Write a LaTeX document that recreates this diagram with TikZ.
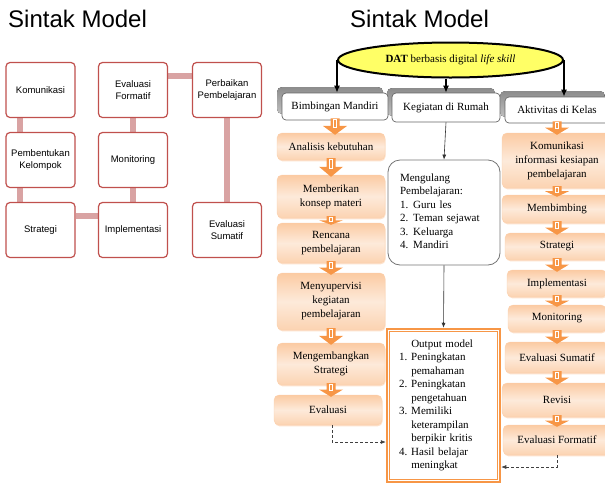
\documentclass[tikz,border=0pt]{standalone}
\usepackage{fontspec}
\setmainfont{Liberation Serif}
\newfontfamily\arialfont{Liberation Sans}
\usetikzlibrary{calc,shapes.geometric,arrows.meta,shadows,backgrounds}

\definecolor{boxred}{HTML}{C0504D}
\definecolor{linkred}{HTML}{D9A3A3}
\definecolor{orangeacc}{HTML}{F79646}
\definecolor{datyellow}{HTML}{FFFF66}

\tikzset{
  judul/.style={anchor=base west, inner sep=0pt, font=\arialfont\fontsize{24}{28}\selectfont},
  sintak/.style={draw=boxred, line width=1.2pt, rounded corners=4pt, fill=white, align=center,
    minimum width=69pt, minimum height=55pt, inner sep=1pt, font=\arialfont\fontsize{9.5}{12}\selectfont},
  sintaklink/.style={linkred, line width=6pt},
  kepala/.style={draw=black!60, line width=0.7pt, fill=white, rounded corners=4pt, inner sep=1pt,
    font=\fontsize{11}{13.5}\selectfont},
  kepalabayang/.style={top color=black!45, bottom color=black!25, rounded corners=5pt, inner sep=0pt},
  langkah/.style={draw=orangeacc!45, line width=0.4pt, rounded corners=5pt, align=center, inner sep=1pt,
    top color=orangeacc!50!white, bottom color=orangeacc!42!white, middle color=orangeacc!20!white,
    drop shadow={shadow xshift=0.6pt, shadow yshift=-1.4pt, fill=orangeacc!35!white, opacity=0.8},
    font=\fontsize{11}{14}\selectfont},
  kotakteks/.style={align=left, inner xsep=12pt, font=\fontsize{11}{13.5}\selectfont},
  panah/.style={line width=1.5pt, -{Latex[length=7pt,width=6pt]}},
  panahtipis/.style={black!80, line width=0.6pt, -{Latex[length=5pt,width=4pt]}},
  putus/.style={black!75, line width=0.6pt, densely dashed, -{Latex[length=5pt,width=4pt]}}
}

% panah blok oranye antar langkah
\newcommand{\blockarrow}[2]{%
  \fill[orangeacc] let \p1=(#1.south), \p2=(#2.north) in
    (\x1-4.5pt,\y1+2pt) -- (\x1-4.5pt,{0.55*\y1+0.45*\y2}) -- (\x1-12pt,{0.55*\y1+0.45*\y2})
    -- (\x1,\y2-2pt) -- (\x1+12pt,{0.55*\y1+0.45*\y2}) -- (\x1+4.5pt,{0.55*\y1+0.45*\y2})
    -- (\x1+4.5pt,\y1+2pt) -- cycle;
  \draw[white, line width=0.5pt] let \p1=(#1.south), \p2=(#2.north) in
    (\x1-1.6pt,\y1+1pt) rectangle (\x1+1.6pt,{0.55*\y1+0.45*\y2-1pt});
}

\begin{document}
\begin{tikzpicture}[x=1pt,y=-1pt]
\useasboundingbox (0,0) rectangle (605,499);

\node[judul] (judulkiri) at (8,27) {Sintak Model};
\node[judul] (judulkanan) at (350,27) {Sintak Model};

% sintak model kiri
\node[sintak] (kom) at (40.5,90) {Komunikasi};
\node[sintak] (pbk) at (40.5,160) {Pembentukan\\Kelompok};
\node[sintak] (str) at (40.5,230) {Strategi};
\node[sintak] (evf) at (133,90) {Evaluasi\\Formatif};
\node[sintak] (mon) at (133,160) {Monitoring};
\node[sintak] (imp) at (133,230) {Implementasi};
\node[sintak] (per) at (227,90) {Perbaikan\\Pembelajaran};
\node[sintak] (evs) at (227,230) {Evaluasi\\Sumatif};

\begin{scope}[on background layer]
\draw[sintaklink] ([xshift=-20.5pt]kom.south) -- ([xshift=-20.5pt]pbk.north);
\draw[sintaklink] ([xshift=-20.5pt]pbk.south) -- ([xshift=-20.5pt]str.north);
\draw[sintaklink] ([yshift=14pt]str.east) -- ([yshift=14pt]imp.west);
\draw[sintaklink] (imp.north) -- (mon.south);
\draw[sintaklink] (mon.north) -- (evf.south);
\draw[sintaklink] ([yshift=14pt]evf.east) -- ([yshift=14pt]per.west);
\draw[sintaklink] (per.south) -- (evs.north);
\end{scope}

% sintak model kanan
\node[ellipse, draw, line width=2pt, fill=datyellow, minimum width=225pt, minimum height=35pt,
  inner sep=0pt, font=\fontsize{11}{12}\selectfont] (dat) at (450.5,60)
  {\textbf{DAT} berbasis digital \textit{life skill}};

\fill[kepalabayang] (277,87) rectangle (383,114);
\fill[kepalabayang] (387,88) rectangle (495,116);
\fill[kepalabayang] (500,91) rectangle (605,117);
\node[kepala, minimum width=106pt, minimum height=27pt] (bim) at (335,106.5) {Bimbingan Mandiri};
\node[kepala, minimum width=108pt, minimum height=29pt] (keg) at (446,107.5) {Kegiatan di Rumah};
\node[kepala, minimum width=104pt, minimum height=26pt] (akt) at (557,110) {Aktivitas di Kelas};

\draw[panah] (dat.west) -- (dat.west |- bim.north);
\draw[panah] (dat.south -| keg.north) -- (keg.north);
\draw[panah] (dat.east) -- (dat.east |- akt.north);

% kolom bimbingan mandiri
\node[langkah, minimum width=108pt, minimum height=27pt] (ana) at (331,146.5) {Analisis kebutuhan};
\node[langkah, minimum width=108pt, minimum height=43pt] (mbk) at (331,196.5) {Memberikan\\konsep materi};
\node[langkah, minimum width=108pt, minimum height=40pt] (ren) at (331,243) {Rencana\\pembelajaran};
\node[langkah, minimum width=108pt, minimum height=57pt] (msp) at (331,301.5) {Menyupervisi\\kegiatan\\pembelajaran};
\node[langkah, minimum width=108pt, minimum height=42pt] (mgs) at (331,364) {Mengembangkan\\Strategi};
\node[langkah, minimum width=108pt, minimum height=30pt] (eva) at (328,410) {Evaluasi};

\blockarrow{bim}{ana}
\blockarrow{ana}{mbk}
\blockarrow{mbk}{ren}
\blockarrow{ren}{msp}
\blockarrow{msp}{mgs}
\blockarrow{mgs}{eva}

% kolom kegiatan di rumah
\node[kotakteks, draw=black!55, line width=0.8pt, rounded corners=12pt, text width=88pt,
  minimum height=105pt] (mgl) at (444,212.5)
  {\begin{tabular}{@{}l@{\hspace{5pt}}l@{}}
   \multicolumn{2}{@{}l@{}}{Mengulang}\\
   \multicolumn{2}{@{}l@{}}{Pembelajaran:}\\
   1. & Guru les\\
   2. & Teman sejawat\\
   3. & Keluarga\\
   4. & Mandiri
   \end{tabular}};

\node[kotakteks, draw=orangeacc, line width=2.5pt, fill=white, text width=89pt,
  minimum height=153pt] (out) at (443.5,405.5)
  {\begin{tabular}{@{}l@{\hspace{4pt}}l@{}}
   & Output model\\
   1. & Peningkatan\\
      & pemahaman\\
   2. & Peningkatan\\
      & pengetahuan\\
   3. & Memiliki\\
      & keterampilan\\
      & berpikir kritis\\
   4. & Hasil belajar\\
      & meningkat
   \end{tabular}};
\draw[orangeacc, line width=0.8pt] ([shift={(4pt,-4pt)}]out.north west) rectangle ([shift={(-4pt,4pt)}]out.south east);

\draw[panahtipis] (keg.south) -- (mgl.north);
\draw[panahtipis] (mgl.south) -- (out.north);

% kolom aktivitas di kelas
\node[langkah, minimum width=110pt, minimum height=55pt] (kom2) at (557,160.5) {Komunikasi\\informasi kesiapan\\pembelajaran};
\node[langkah, minimum width=110pt, minimum height=28pt] (mbb) at (557,209) {Membimbing};
\node[langkah, minimum width=104pt, minimum height=27pt] (stg) at (557,246.5) {Strategi};
\node[langkah, minimum width=100pt, minimum height=27pt] (imp2) at (557,283.5) {Implementasi};
\node[langkah, minimum width=98pt, minimum height=27pt] (mnt) at (557,318.5) {Monitoring};
\node[langkah, minimum width=104pt, minimum height=31pt] (evs2) at (557,357.5) {Evaluasi Sumatif};
\node[langkah, minimum width=110pt, minimum height=34pt] (rev) at (557,400) {Revisi};
\node[langkah, minimum width=108pt, minimum height=30pt] (evf2) at (557,440) {Evaluasi Formatif};

\blockarrow{akt}{kom2}
\blockarrow{kom2}{mbb}
\blockarrow{mbb}{stg}
\blockarrow{stg}{imp2}
\blockarrow{imp2}{mnt}
\blockarrow{mnt}{evs2}
\blockarrow{evs2}{rev}
\blockarrow{rev}{evf2}

\draw[putus] ([xshift=4pt]eva.south) |- ([yshift=-36.5pt]out.west);
\draw[putus] (evf2.south) |- ([yshift=-61.5pt]out.east);

\end{tikzpicture}
\end{document}
